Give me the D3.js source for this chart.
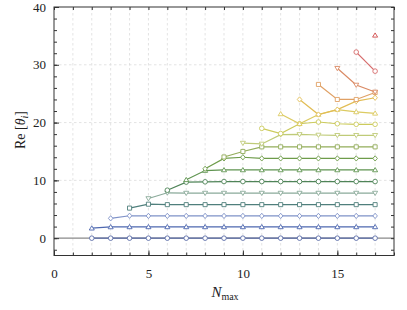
<!DOCTYPE html>
<html>
<head>
<meta charset="utf-8">
<script src="https://cdn.jsdelivr.net/npm/d3@7"></script>
<style>
  body { margin: 0; background: #fff; }
  svg text { font-family: "Liberation Serif", "DejaVu Serif", serif; fill: #222; }
</style>
</head>
<body>
<div id="chart"></div>
<script>
let width = 407, height = 310;

// N_max at which each series first appears
const seriesStart = [2, 2, 3, 4, 5, 6, 7, 8, 9, 10, 11, 12, 13, 14, 15, 16, 17];

// Re[theta_i] for each series, from its start N_max up to 17
const reTheta = [
  [0, 0, 0, 0, 0, 0, 0, 0, 0, 0, 0, 0, 0, 0, 0, 0],
  [1.72, 1.94, 1.95, 1.95, 1.95, 1.95, 1.95, 1.95, 1.95, 1.95, 1.95, 1.95, 1.95, 1.95, 1.95, 1.95],
  [3.43, 3.88, 3.85, 3.85, 3.85, 3.85, 3.85, 3.85, 3.85, 3.85, 3.85, 3.85, 3.85, 3.85, 3.85],
  [5.2, 5.88, 5.8, 5.8, 5.8, 5.8, 5.8, 5.8, 5.8, 5.8, 5.8, 5.8, 5.8, 5.8],
  [6.86, 7.85, 7.8, 7.8, 7.8, 7.8, 7.8, 7.8, 7.8, 7.8, 7.8, 7.8, 7.8],
  [8.3, 9.7, 9.75, 9.8, 9.8, 9.8, 9.8, 9.8, 9.8, 9.8, 9.8, 9.8],
  [10.1, 11.7, 11.8, 11.8, 11.8, 11.8, 11.8, 11.8, 11.8, 11.8, 11.8],
  [12.0, 13.8, 14.0, 13.8, 13.8, 13.8, 13.8, 13.8, 13.8, 13.8],
  [14.05, 15.0, 15.8, 15.8, 15.8, 15.8, 15.8, 15.8, 15.8],
  [16.45, 16.3, 17.9, 17.95, 17.85, 17.8, 17.8, 17.8],
  [19.0, 18.1, 19.8, 20.1, 19.8, 19.7, 19.7],
  [21.5, 19.8, 21.4, 22.25, 21.85, 21.6],
  [24.0, 21.4, 22.25, 23.7, 24.3],
  [26.6, 24.0, 24.0, 25.2],
  [29.4, 26.5, 25.3],
  [32.2, 28.9],
  [35.1]
];

const colors = [
  '#5a6ca8', '#4e68b0', '#7f92c8', '#4f7f7c', '#8aaa9a', '#4f8458',
  '#5f9450', '#6e9c4a', '#93ad5a', '#bfcb78', '#cccb5c', '#dccb62',
  '#e2bd54', '#e0a064', '#da8a64', '#d66a6a', '#d04a4a'
];
const shapes = ['circle', 'triangle', 'diamond', 'square', 'triangleDown'];

const xTicks = [0, 5, 10, 15];
const yTicks = [0, 10, 20, 30, 40];

const x = d3.scaleLinear().domain([0, 18]).range([54, 394]);
const y = d3.scaleLinear().domain([-3, 40]).range([255.5, 7]);

const svg = d3.select('#chart').append('svg')
  .attr('width', width)
  .attr('height', height);

// grid
svg.append('g').selectAll('line')
  .data(d3.range(1, 18))
  .join('line')
    .attr('x1', d => x(d)).attr('x2', d => x(d))
    .attr('y1', y.range()[0]).attr('y2', y.range()[1])
    .attr('stroke', '#dcdcdc')
    .attr('stroke-width', 0.8)
    .attr('stroke-dasharray', '2.5,2.5');

svg.append('g').selectAll('line')
  .data(yTicks.filter(d => d > 0 && d < 40))
  .join('line')
    .attr('x1', x.range()[0]).attr('x2', x.range()[1])
    .attr('y1', d => y(d)).attr('y2', d => y(d))
    .attr('stroke', '#dcdcdc')
    .attr('stroke-width', 0.8)
    .attr('stroke-dasharray', '2.5,2.5');

// zero line
svg.append('line')
  .attr('x1', x(0)).attr('x2', x(18))
  .attr('y1', y(0)).attr('y2', y(0))
  .attr('stroke', '#8a8a8a')
  .attr('stroke-width', 1.4);

// symbols
const markerPath = (shape, s) => {
  if (shape === 'circle') return d3.symbol(d3.symbolCircle, Math.PI * 2.3 * 2.3)();
  if (shape === 'triangle') return `M0,${-s}L${s * 1.05},${s * 0.75}L${-s * 1.05},${s * 0.75}Z`;
  if (shape === 'triangleDown') return `M0,${s}L${s * 1.05},${-s * 0.75}L${-s * 1.05},${-s * 0.75}Z`;
  if (shape === 'diamond') return `M0,${-s * 1.1}L${s * 0.95},0L0,${s * 1.1}L${-s * 0.95},0Z`;
  return `M${-s * 0.85},${-s * 0.85}H${s * 0.85}V${s * 0.85}H${-s * 0.85}Z`;
};

const line = d3.line().x(d => x(d[0])).y(d => y(d[1]));

reTheta.forEach((vals, i) => {
  const pts = vals.map((v, j) => [seriesStart[i] + j, v]);
  const g = svg.append('g');
  g.append('path')
    .datum(pts)
    .attr('d', line)
    .attr('fill', 'none')
    .attr('stroke', colors[i])
    .attr('stroke-width', 1.2);
  g.selectAll('path.m')
    .data(pts)
    .join('path')
      .attr('class', 'm')
      .attr('transform', d => `translate(${x(d[0])},${y(d[1])})`)
      .attr('d', markerPath(shapes[i % 5], 2.4))
      .attr('fill', '#fff')
      .attr('stroke', colors[i])
      .attr('stroke-width', 0.9);
});

// frame and axes
svg.append('rect')
  .attr('x', x.range()[0]).attr('y', y.range()[1])
  .attr('width', x.range()[1] - x.range()[0])
  .attr('height', y.range()[0] - y.range()[1])
  .attr('fill', 'none')
  .attr('stroke', '#333')
  .attr('stroke-width', 1);

svg.append('g')
  .attr('transform', `translate(0,${y.range()[0]})`)
  .call(d3.axisBottom(x).tickValues(d3.range(0, 19)).tickSize(-3).tickFormat(''))
  .call(g => g.select('.domain').remove());
svg.append('g')
  .attr('transform', `translate(0,${y.range()[0]})`)
  .call(d3.axisBottom(x).tickValues(xTicks).tickSize(-5).tickPadding(13))
  .call(g => g.select('.domain').remove());
svg.append('g')
  .attr('transform', `translate(0,${y.range()[1]})`)
  .call(d3.axisTop(x).tickValues(d3.range(0, 19)).tickSize(-3).tickFormat(''))
  .call(g => g.select('.domain').remove());

svg.append('g')
  .attr('transform', `translate(${x.range()[0]},0)`)
  .call(d3.axisLeft(y).tickValues(d3.range(-2, 41, 2)).tickSize(-3).tickFormat(''))
  .call(g => g.select('.domain').remove());
svg.append('g')
  .attr('transform', `translate(${x.range()[0]},0)`)
  .call(d3.axisLeft(y).tickValues(yTicks).tickSize(-5).tickPadding(8))
  .call(g => g.select('.domain').remove());
svg.append('g')
  .attr('transform', `translate(${x.range()[1]},0)`)
  .call(d3.axisRight(y).tickValues(d3.range(-2, 41, 2)).tickSize(-3).tickFormat(''))
  .call(g => g.select('.domain').remove());

svg.selectAll('.tick line').attr('stroke', '#333');
svg.selectAll('.tick text')
  .style('font-size', '13px')
  .style('font-family', '"Liberation Serif", serif')
  .style('fill', '#222');

// labels
const xl = svg.append('text')
  .attr('x', 225).attr('y', 297)
  .attr('text-anchor', 'middle')
  .style('font-size', '15px');
xl.append('tspan').attr('font-style', 'italic').text('N');
xl.append('tspan').style('font-size', '10px').attr('dy', 3).text('max');

const yl = svg.append('text')
  .attr('transform', 'translate(25,130) rotate(-90)')
  .attr('text-anchor', 'middle')
  .style('font-size', '14px');
yl.append('tspan').text('Re [');
yl.append('tspan').attr('font-style', 'italic').text('θ');
yl.append('tspan').style('font-size', '10px').attr('font-style', 'italic').attr('dy', 3).text('i');
yl.append('tspan').attr('dy', -3).text(']');
</script>
</body>
</html>
